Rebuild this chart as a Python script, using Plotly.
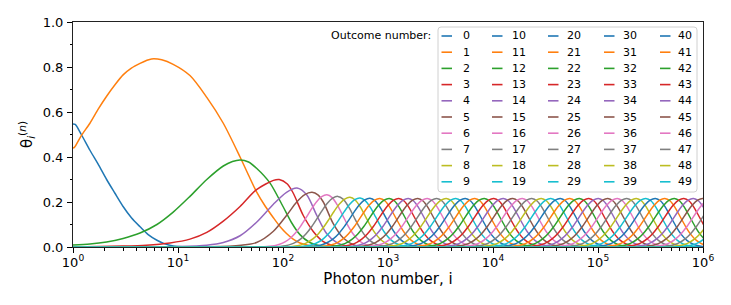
import plotly.graph_objects as go

# ---------------- data ----------------
TAB10 = ['#1f77b4', '#ff7f0e', '#2ca02c', '#d62728', '#9467bd',
         '#8c564b', '#e377c2', '#7f7f7f', '#bcbd22', '#17becf']

OUTCOMES = list(range(50))

X_TICK_VALS = [1, 10, 100, 1e3, 1e4, 1e5, 1e6]
X_TICK_TEXT = ['10<sup>0</sup>', '10<sup>1</sup>', '10<sup>2</sup>', '10<sup>3</sup>',
               '10<sup>4</sup>', '10<sup>5</sup>', '10<sup>6</sup>']
Y_TICK_VALS = [0, 0.2, 0.4, 0.6, 0.8, 1.0]
Y_TICK_TEXT = ['0.0', '0.2', '0.4', '0.6', '0.8', '1.0']

# outcomes 0-5: photon number i and theta values read point by point
C0_I = [1, 1.05, 1.2, 1.45, 1.75, 2.09, 2.5, 3.0, 3.6, 4.35, 5.2, 6.3, 7.5, 9, 11, 14]
C0_T = [0.547, 0.545, 0.50, 0.43, 0.365, 0.30, 0.24, 0.18, 0.13, 0.09, 0.055, 0.03, 0.014, 0.005, 0.001, 0]

C1_I = [1, 1.03, 1.2, 1.45, 1.75, 2.09, 2.5, 3.0, 3.6, 4.35, 5.0, 5.6, 7, 9, 13, 18.8, 27, 39, 48, 56, 68, 81,
        94, 108, 125, 145, 180, 230]
C1_T = [0.44, 0.443, 0.495, 0.55, 0.615, 0.67, 0.72, 0.765, 0.795, 0.816, 0.829, 0.836, 0.832, 0.812, 0.762,
        0.665, 0.55, 0.40, 0.31, 0.245, 0.18, 0.13, 0.09, 0.06, 0.035, 0.018, 0.006, 0]

C2_I = [1, 1.45, 2.09, 3, 4.35, 6.3, 9, 13, 18.8, 27, 33, 39, 47, 56, 75, 100, 120, 145, 180, 230, 300]
C2_T = [0.009, 0.013, 0.022, 0.038, 0.062, 0.1, 0.155, 0.225, 0.3, 0.36, 0.38, 0.387, 0.378, 0.35, 0.285,
        0.18, 0.11, 0.055, 0.02, 0.004, 0]

C3_I = [1, 3, 5, 8.4, 13, 18.8, 27, 39, 56, 81, 92, 110, 125, 156, 195, 242, 300, 380]
C3_T = [0, 0.004, 0.008, 0.018, 0.035, 0.065, 0.115, 0.18, 0.255, 0.296, 0.30, 0.28, 0.24, 0.14, 0.068, 0.024, 0.006, 0]

C4_I = [5, 10, 18.8, 27, 39, 56, 81, 108, 136, 168, 210, 260, 324, 400, 500]
C4_T = [0, 0.002, 0.008, 0.02, 0.05, 0.11, 0.19, 0.243, 0.262, 0.232, 0.14, 0.06, 0.02, 0.004, 0]

C5_I = [20, 40, 56, 81, 108, 135, 160, 189, 215, 242, 300, 375, 480, 600]
C5_T = [0.001, 0.008, 0.02, 0.07, 0.14, 0.2, 0.232, 0.243, 0.232, 0.2, 0.105, 0.04, 0.008, 0]

EARLY_I = [C0_I, C1_I, C2_I, C3_I, C4_I, C5_I]
EARLY_T = [C0_T, C1_T, C2_T, C3_T, C4_T, C5_T]

# outcomes 6-49: peak photon number and peak height
PEAK_I = [262, 333, 434, 541, 673, 836, 1029, 1268, 1562, 1923,
          2369, 2917, 3593, 4426, 5452, 6714, 8270, 10186, 12546, 15453,
          19033, 23442, 28874, 35563, 43803, 53951, 66452, 81846, 100809, 124165,
          152933, 188365, 232008, 285759, 351968, 433511, 533953, 657658, 810032, 997700,
          1228838, 1513561, 1864246, 2296148]
PEAK_T = [0.232, 0.225, 0.221, 0.218, 0.217] + [0.216] * 39

# common bump shape of those curves: offset from the peak (decades) and fraction of peak
PROFILE_DEC = [-0.65, -0.6, -0.55, -0.5, -0.45, -0.4, -0.35, -0.3, -0.25, -0.2, -0.15, -0.1, -0.05,
               0.0, 0.05, 0.1, 0.15, 0.2, 0.25, 0.3, 0.35, 0.4, 0.45, 0.5, 0.55]
PROFILE_FRAC = [0.002, 0.005, 0.012, 0.026, 0.052, 0.097, 0.167, 0.268, 0.401, 0.557, 0.72, 0.864, 0.964,
                1.0, 0.946, 0.801, 0.607, 0.411, 0.249, 0.135, 0.066, 0.029, 0.011, 0.004, 0.0]

# ---------------- geometry helpers (layout only) ----------------
W, H = 731, 305
L, R, T, B = 73, 28, 22, 58
PW, PH = W - L - R, H - T - B


def px(xp):
    return (xp - L) / PW


def py(yp):
    return (H - B - yp) / PH


fig = go.Figure()

for n in OUTCOMES:
    if n < 3:
        xs = EARLY_I[n] + [1e7]
        ys = EARLY_T[n] + [0]
    elif n < 6:
        xs = [1] + EARLY_I[n] + [1e7]
        ys = [0] + EARLY_T[n] + [0]
    else:
        k = n - 6
        xs = [1] + [PEAK_I[k] * 10 ** d for d in PROFILE_DEC] + [1e7]
        ys = [0] + [PEAK_T[k] * f for f in PROFILE_FRAC] + [0]
    fig.add_trace(go.Scatter(
        x=xs, y=ys, mode='lines', name=str(n),
        line=dict(color=TAB10[n % 10], width=1.5, shape='spline', smoothing=0.8),
        showlegend=False, hoverinfo='skip'))

FONT = 'DejaVu Sans, Verdana, sans-serif'

fig.update_layout(
    width=W, height=H,
    margin=dict(l=L, r=R, t=T, b=B),
    paper_bgcolor='white', plot_bgcolor='white',
    font=dict(family=FONT, color='black'),
    showlegend=False,
)

fig.update_xaxes(
    type='log', range=[0, 6],
    tickvals=X_TICK_VALS, ticktext=X_TICK_TEXT,
    ticks='outside', ticklen=5, tickwidth=1, tickcolor='black',
    tickfont=dict(size=13, family=FONT), ticklabelstandoff=-2,
    showline=True, linecolor='#222222', linewidth=1, mirror=True,
    showgrid=False, zeroline=False,
    minor=dict(tickvals=[m * 10 ** e for e in range(0, 6) for m in range(2, 10)],
               ticks='outside', ticklen=2.5, tickwidth=0.8, tickcolor='black', showgrid=False),
    title=dict(text='Photon number, i', font=dict(size=15, family=FONT), standoff=3),
)

fig.update_yaxes(
    range=[0, 1], tickvals=Y_TICK_VALS, ticktext=Y_TICK_TEXT,
    ticks='outside', ticklen=5, tickwidth=1, tickcolor='black',
    tickfont=dict(size=13, family=FONT), ticklabelstandoff=1,
    showline=True, linecolor='#222222', linewidth=1, mirror=True,
    showgrid=False, zeroline=False,
    minor=dict(tickvals=[0.1, 0.3, 0.5, 0.7, 0.9], ticks='outside', ticklen=2.5,
               tickwidth=0.8, tickcolor='black', showgrid=False),
    title=dict(text='θ<sub><i>i</i></sub><sup>(<i>n</i>)</sup>', font=dict(size=15, family=FONT), standoff=6),
)

ann = []

# legend drawn by hand: 5 columns x 10 rows
LEG_X0, LEG_X1, LEG_Y0, LEG_Y1 = 438, 697, 27, 192
HANDLE_X0 = [441.5, 492, 548, 604, 660]
HANDLE_LEN = 10.5
TEXT_X = [461.5, 510.5, 566, 621.5, 677]
ROW_Y0, ROW_DY = 36, 16.2

shapes = []
rr = 3
x0, x1, y0, y1 = LEG_X0, LEG_X1, LEG_Y0, LEG_Y1
path = (f'M {px(x0 + rr)},{py(y0)} L {px(x1 - rr)},{py(y0)} Q {px(x1)},{py(y0)} {px(x1)},{py(y0 + rr)} '
        f'L {px(x1)},{py(y1 - rr)} Q {px(x1)},{py(y1)} {px(x1 - rr)},{py(y1)} '
        f'L {px(x0 + rr)},{py(y1)} Q {px(x0)},{py(y1)} {px(x0)},{py(y1 - rr)} '
        f'L {px(x0)},{py(y0 + rr)} Q {px(x0)},{py(y0)} {px(x0 + rr)},{py(y0)} Z')
shapes.append(dict(type='path', path=path, xref='paper', yref='paper',
                   line=dict(color='#d0d0d0', width=1), fillcolor='rgba(255,255,255,0.8)', layer='above'))

for n in OUTCOMES:
    col, row = n // 10, n % 10
    yy = ROW_Y0 + ROW_DY * row
    shapes.append(dict(type='line', xref='paper', yref='paper',
                       x0=px(HANDLE_X0[col]), x1=px(HANDLE_X0[col] + HANDLE_LEN), y0=py(yy), y1=py(yy),
                       line=dict(color=TAB10[n % 10], width=1.6), layer='above'))
    ann.append(dict(x=px(TEXT_X[col]), y=py(yy), xref='paper', yref='paper', text=str(n),
                    showarrow=False, xanchor='left', yanchor='middle', borderpad=0,
                    font=dict(size=11, family=FONT, color='black')))

ann.append(dict(x=px(432), y=py(ROW_Y0), xref='paper', yref='paper', text='Outcome number:',
                showarrow=False, xanchor='right', yanchor='middle', borderpad=0,
                font=dict(size=11, family=FONT, color='black')))

fig.update_layout(shapes=shapes, annotations=ann)

# remove the browser's default 8px page margin so the figure sits at the window origin
fig.write_html('out.html', config={'displayModeBar': False},
               post_script="document.body.style.margin='0';document.body.style.padding='0';")
